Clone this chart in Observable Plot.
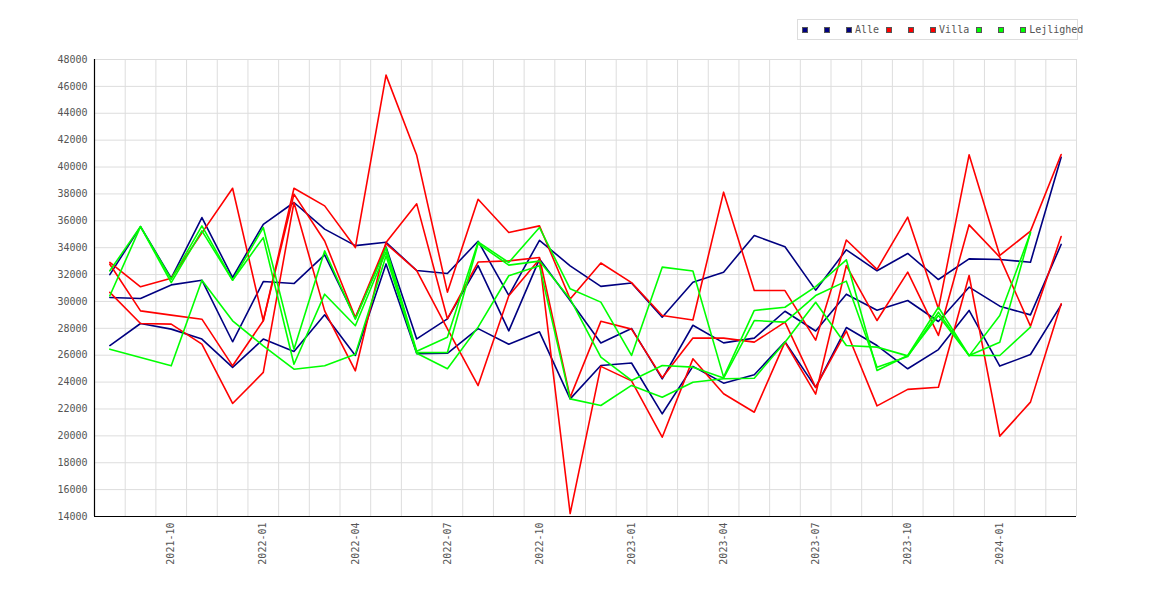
<!DOCTYPE html>
<html>
<head>
<meta charset="utf-8">
<script src="https://cdn.jsdelivr.net/npm/d3@7"></script>
<script src="https://cdn.jsdelivr.net/npm/@observablehq/plot@0.6"></script>
<style>
  html, body { margin: 0; padding: 0; background: #fff; }
  #wrap { position: relative; width: 1170px; height: 600px; }
  #legend { position: absolute; left: 797px; top: 19px; width: 279px; height: 19px;
            border: 1px solid #dddddd; box-sizing: content-box;
            font-family: "DejaVu Sans Mono", monospace; font-size: 10px; color: #555; }
  #legend .row { position: absolute; left: 4px; top: 0; height: 19px; display: flex; align-items: center; white-space: nowrap; }
  #legend .sw { width: 6px; height: 6px; box-sizing: border-box; border: 1px solid #555; margin-right: 16px; }
  #legend .sw.last { margin-right: 3px; }
  #legend .lab { margin-right: 7px; }
</style>
</head>
<body>
<div id="wrap"><div id="legend"><div class="row" id="legendRow"></div></div></div>
<script>
// ---- data (monthly, 2021-08 .. 2024-03) ----
const months = ["2021-08","2021-09","2021-10","2021-11","2021-12","2022-01","2022-02","2022-03","2022-04","2022-05","2022-06","2022-07","2022-08","2022-09","2022-10","2022-11","2022-12","2023-01","2023-02","2023-03","2023-04","2023-05","2023-06","2023-07","2023-08","2023-09","2023-10","2023-11","2023-12","2024-01","2024-02","2024-03"];

const tickMonths = ["2021-10","2022-01","2022-04","2022-07","2022-10","2023-01","2023-04","2023-07","2023-10","2024-01"];
const yTicks = [14000,16000,18000,20000,22000,24000,26000,28000,30000,32000,34000,36000,38000,40000,42000,44000,46000,48000];

const categories = ["Alle", "Villa", "Lejlighed"];
const colors = ["#000080", "#ff0000", "#00ff00"];

const alle1 = [31990,35570,31730,36240,31780,35740,37360,35380,34150,34400,32300,32080,34480,30450,34550,32650,31120,31370,28830,31430,32180,34910,34070,30840,33840,32280,33570,31630,33170,33120,32920,40730];
const alle2 = [30290,30220,31230,31580,27000,31480,31330,33460,28780,34050,27210,28700,32660,27810,33150,30070,26910,27990,24240,28230,26920,27270,29270,27800,30540,29350,30070,28510,31060,29650,29000,34240];
const alle3 = [26720,28360,27940,27200,25090,27200,26280,29010,25980,32790,26120,26140,27980,26820,27740,22750,25230,25420,21640,25170,23920,24540,27000,23610,28060,26720,24990,26420,29330,25190,26050,29750];

const villa1 = [32900,31090,31730,35100,38420,28560,38420,37110,34010,46840,40870,30690,37600,35130,35620,30180,32860,31400,28950,28620,38130,30810,30810,27120,34570,32390,36270,29450,40910,33420,35230,40930];
const villa2 = [32770,29300,28980,28680,25210,28560,37980,34500,28810,34300,32300,27960,23740,30420,33140,14220,25170,24090,19900,25730,23130,21760,26970,23100,32670,28580,32180,27470,35700,33300,28160,34830];
const villa3 = [30670,28360,28310,26820,22410,24720,37360,29300,24840,34380,37260,28710,32930,33020,33270,22860,28520,27940,24330,27280,27270,26970,28460,23600,27800,22230,23460,23620,31930,19980,22510,29820];

const lejl1 = [32280,35570,31650,35620,31580,35500,26450,33760,28680,34000,26300,27330,34420,32900,35500,30940,29950,25980,32550,32270,24370,29330,29570,31100,33100,24860,25980,29570,25980,26970,35150];
const lejl2 = [30420,35570,31400,35250,31580,34750,25330,30540,28190,33700,26200,26200,34300,32700,33000,30190,25860,24120,25230,25110,24300,28580,28460,30440,31510,25100,25900,29200,25950,28950,35100];
const lejl3 = [26450,25830,25210,31580,28560,26700,24960,25210,26080,33400,26150,24990,28090,31910,32650,22750,22260,23750,22870,23990,24250,24290,26970,29940,26720,26600,25950,28950,25980,25980,28090];

const seriesByCategory = [[alle1, alle2, alle3], [villa1, villa2, villa3], [lejl1, lejl2, lejl3]];

// ---- build long table ----
const rows = [];
seriesByCategory.forEach((sets, ci) => {
  sets.forEach((vals, k) => {
    vals.forEach((v, i) => rows.push({cat: categories[ci], series: categories[ci] + k, i, v}));
  });
});

const edges = d3.range(1, months.length + 1).map(k => k - 0.5);
const tickIdx = tickMonths.map(m => months.indexOf(m));

const chart = Plot.plot({
  width: 1170,
  height: 600,
  marginLeft: 94,
  marginRight: 94,
  marginTop: 59,
  marginBottom: 84,
  style: {fontFamily: "'DejaVu Sans Mono', monospace", fontSize: "10px", color: "#555", background: "white"},
  x: {type: "linear", domain: [-0.5, months.length - 0.5], axis: null, label: null},
  y: {domain: [14000, 48000], axis: null, label: null},
  color: {domain: categories, range: colors},
  marks: [
    Plot.ruleY(yTicks, {stroke: "#dddddd", strokeWidth: 1}),
    Plot.ruleX(edges, {stroke: "#dddddd", strokeWidth: 1}),
    Plot.lineY(rows, {x: "i", y: "v", z: "series", stroke: "cat", strokeWidth: 1.6}),
    Plot.axisY(yTicks, {tickSize: 0, tickPadding: 7, tickFormat: d3.format("d"), fill: "#555", label: null}),
    Plot.axisX(tickIdx, {tickSize: 0, tickPadding: 6, tickRotate: -90, tickFormat: i => months[i], fill: "#555", label: null}),
    Plot.ruleX([-0.5], {stroke: "black", strokeWidth: 1.2}),
    Plot.ruleY([14000], {stroke: "black", strokeWidth: 1.2})
  ]
});
document.getElementById("wrap").insertBefore(chart, document.getElementById("legend"));

// ---- legend ----
const row = document.getElementById("legendRow");
categories.forEach((c, ci) => {
  for (let k = 0; k < 3; k++) {
    const sw = document.createElement("span");
    sw.className = "sw" + (k === 2 ? " last" : "");
    sw.style.background = colors[ci];
    row.appendChild(sw);
  }
  const lab = document.createElement("span");
  lab.className = "lab";
  lab.textContent = c;
  row.appendChild(lab);
});
</script>
</body>
</html>
